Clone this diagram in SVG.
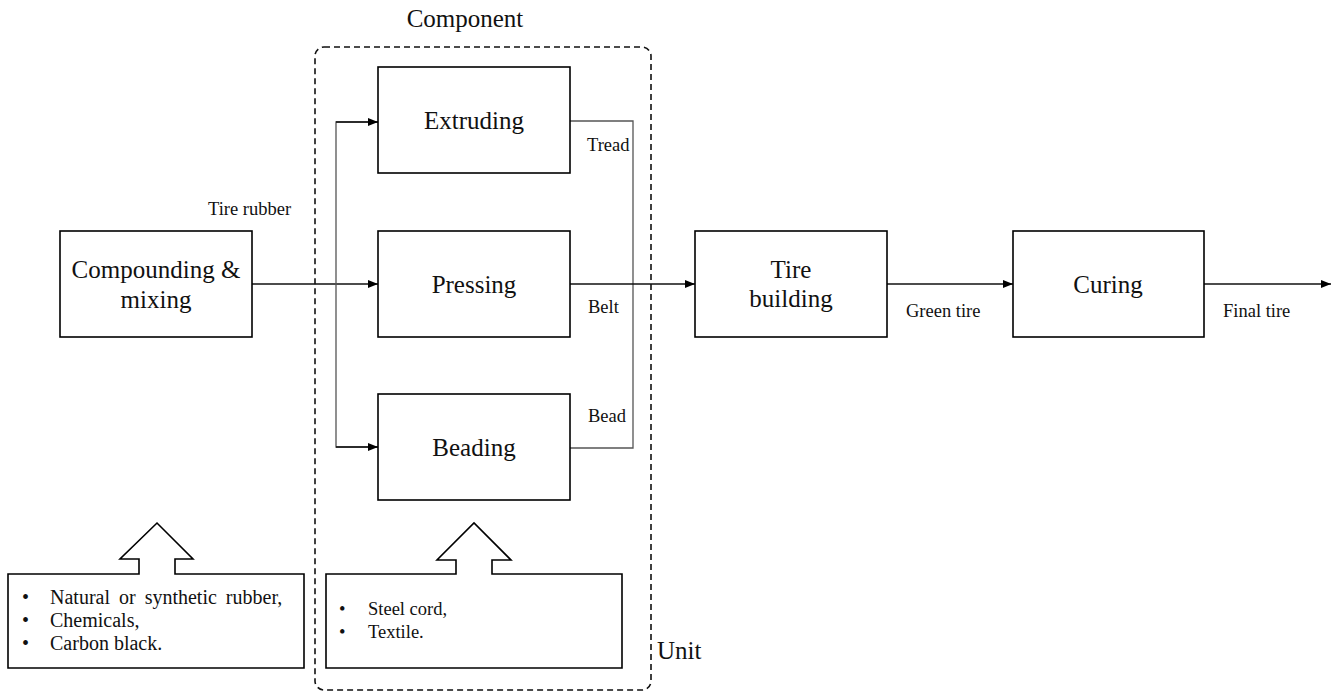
<svg xmlns="http://www.w3.org/2000/svg" width="1334" height="691" viewBox="0 0 1334 691" font-family="'Liberation Serif', 'Times New Roman', serif">
<style>
  .box { fill: #fff; stroke: #000; stroke-width: 1.6; }
  .big { font-family: 'Liberation Serif', 'Times New Roman', serif; font-size: 25px; fill: #111; }
  .lbl { font-family: 'Liberation Serif', 'Times New Roman', serif; font-size: 18.5px; fill: #111; }
  .lst { font-family: 'Liberation Serif', 'Times New Roman', serif; font-size: 20px; fill: #111; }
  .ln { fill: none; stroke: #111; stroke-width: 1.4; }
  .gl { fill: none; stroke: #555; stroke-width: 1.3; }
  .blk { fill: #fff; stroke: #000; stroke-width: 1.6; stroke-linejoin: miter; }
</style>
<defs>
  <marker id="ah" markerWidth="10" markerHeight="8" refX="10" refY="4" orient="auto" markerUnits="userSpaceOnUse">
    <path d="M0,0 L10,4 L0,8 Z" fill="#000"/>
  </marker>
</defs>
<rect width="1334" height="691" fill="#fff"/>

<g id="component-group">
  <rect x="315" y="47" width="336" height="643" rx="9" fill="none" stroke="#111" stroke-width="1.6" stroke-dasharray="6,4"/>
  <text class="big" x="465" y="27" text-anchor="middle">Component</text>
  <text class="big" x="657" y="659">Unit</text>
</g>

<g id="connectors">
  <line class="ln" x1="252" y1="284" x2="378" y2="284" marker-end="url(#ah)"/>
  <polyline class="gl" points="378,122 336,122 336,447 378,447"/>
  <line class="ln" x1="336" y1="122" x2="378" y2="122" marker-end="url(#ah)"/>
  <line class="ln" x1="336" y1="447" x2="378" y2="447" marker-end="url(#ah)"/>
  <polyline class="gl" points="570,121 633,121 633,448 570,448"/>
  <line class="ln" x1="570" y1="284" x2="695" y2="284" marker-end="url(#ah)"/>
  <line class="ln" x1="887" y1="284" x2="1013" y2="284" marker-end="url(#ah)"/>
  <line class="ln" x1="1204" y1="284" x2="1331" y2="284" marker-end="url(#ah)"/>
  <text class="lbl" x="208" y="215">Tire rubber</text>
  <text class="lbl" x="587" y="151">Tread</text>
  <text class="lbl" x="588" y="313">Belt</text>
  <text class="lbl" x="588" y="422">Bead</text>
  <text class="lbl" x="906" y="317" font-size="19">Green tire</text>
  <text class="lbl" x="1223" y="317" font-size="19">Final tire</text>
</g>

<g id="compounding">
  <rect class="box" x="60" y="231" width="192" height="106"/>
  <text class="big" x="156" y="278" text-anchor="middle">Compounding &amp;</text>
  <text class="big" x="156" y="308" text-anchor="middle">mixing</text>
</g>

<g id="extruding">
  <rect class="box" x="378" y="67" width="192" height="106"/>
  <text class="big" x="474" y="129" text-anchor="middle">Extruding</text>
</g>

<g id="pressing">
  <rect class="box" x="378" y="231" width="192" height="106"/>
  <text class="big" x="474" y="293" text-anchor="middle">Pressing</text>
</g>

<g id="beading">
  <rect class="box" x="378" y="394" width="192" height="106"/>
  <text class="big" x="474" y="456" text-anchor="middle">Beading</text>
</g>

<g id="tire-building">
  <rect class="box" x="695" y="231" width="192" height="106"/>
  <text class="big" x="791" y="278" text-anchor="middle">Tire</text>
  <text class="big" x="791" y="307" text-anchor="middle">building</text>
</g>

<g id="curing">
  <rect class="box" x="1013" y="231" width="191" height="106"/>
  <text class="big" x="1108" y="293" text-anchor="middle">Curing</text>
</g>

<g id="raw-materials">
  <path class="blk" d="M8,574 H139 V559 H120 L157,523 L193,559 H175 V574 H304 V668 H8 Z"/>
  <text class="lst" x="22" y="604">•</text>
  <text class="lst" x="50" y="604" word-spacing="4">Natural or synthetic rubber,</text>
  <text class="lst" x="22" y="627">•</text>
  <text class="lst" x="50" y="627">Chemicals,</text>
  <text class="lst" x="22" y="650">•</text>
  <text class="lst" x="50" y="650">Carbon black.</text>
</g>

<g id="component-materials">
  <path class="blk" d="M326,574 H456 V560 H437 L474,523 L511,560 H492 V574 H622 V668 H326 Z"/>
  <text class="lbl" x="339" y="615">•</text>
  <text class="lbl" x="368" y="615">Steel cord,</text>
  <text class="lbl" x="339" y="638">•</text>
  <text class="lbl" x="368" y="638">Textile.</text>
</g>
</svg>
